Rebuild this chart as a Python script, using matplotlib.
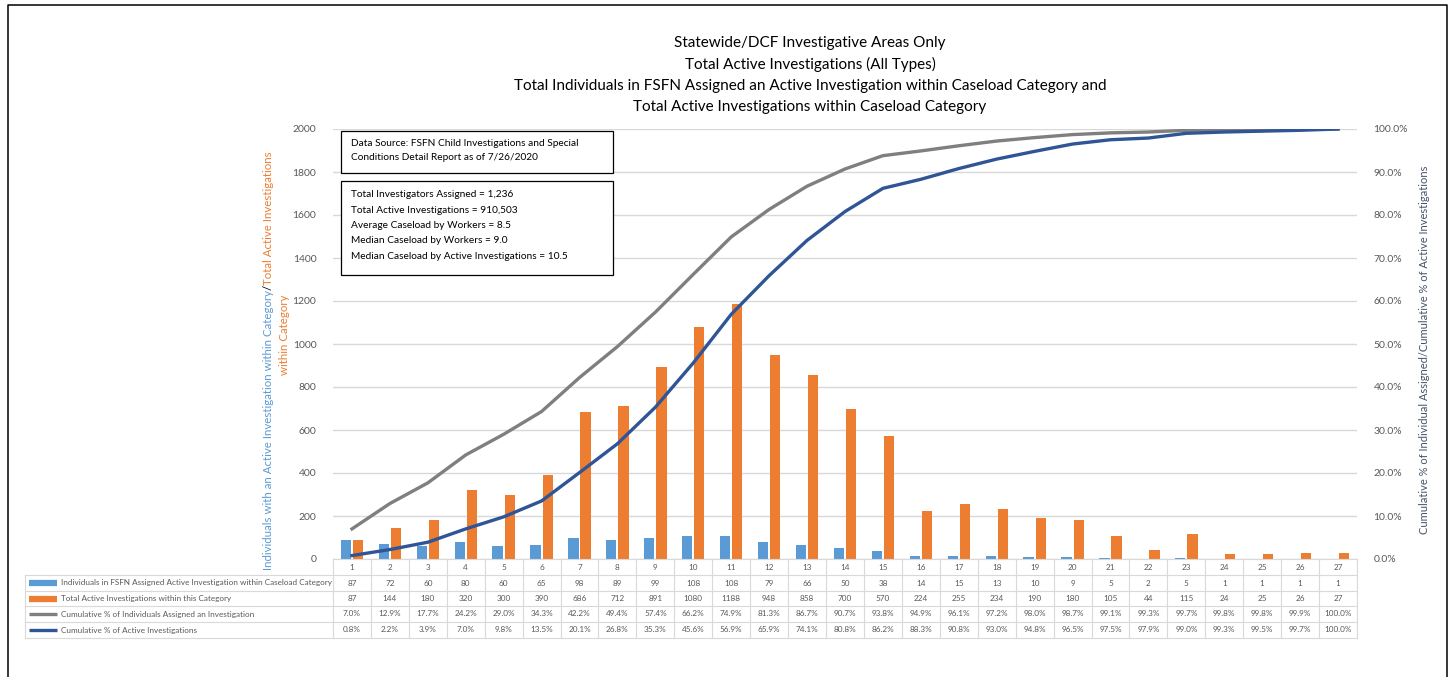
import matplotlib
matplotlib.use("Agg")
import matplotlib.pyplot as plt
import matplotlib.transforms as mtransforms
from matplotlib.lines import Line2D
from matplotlib.patches import Rectangle
import numpy as np

plt.rcParams['font.family'] = ['Lato', 'DejaVu Sans']

categories = list(range(1, 28))
individuals = [87, 72, 60, 80, 60, 65, 98, 89, 99, 108, 108, 79, 66, 50, 38, 14, 15, 13, 10, 9, 5, 2, 5, 1, 1, 1, 1]
investigations = [87, 144, 180, 320, 300, 390, 686, 712, 891, 1080, 1188, 948, 858, 700, 570, 224, 255, 234, 190, 180, 105, 44, 115, 24, 25, 26, 27]
cum_individuals = [7.0, 12.9, 17.7, 24.2, 29.0, 34.3, 42.2, 49.4, 57.4, 66.2, 74.9, 81.3, 86.7, 90.7, 93.8, 94.9, 96.1, 97.2, 98.0, 98.7, 99.1, 99.3, 99.7, 99.8, 99.8, 99.9, 100.0]
cum_investigations = [0.8, 2.2, 3.9, 7.0, 9.8, 13.5, 20.1, 26.8, 35.3, 45.6, 56.9, 65.9, 74.1, 80.8, 86.2, 88.3, 90.8, 93.0, 94.8, 96.5, 97.5, 97.9, 99.0, 99.3, 99.5, 99.7, 100.0]

series_labels = ["Individuals in FSFN Assigned Active Investigation within Caseload Category",
                 "Total Active Investigations within this Category",
                 "Cumulative % of Individuals Assigned an Investigation",
                 "Cumulative % of Active Investigations"]
title_lines = ["Statewide/DCF Investigative Areas Only",
               "Total Active Investigations (All Types)",
               "Total Individuals in FSFN Assigned an Active Investigation within Caseload Category and",
               "Total Active Investigations within Caseload Category"]

BLUE = '#5B9BD5'
ORANGE = '#ED7D31'
GRAY = '#7F7F7F'
DBLUE = '#2F5597'
GRID = '#D9D9D9'
TXT = '#595959'

W, H = 1453, 677
fig = plt.figure(figsize=(W / 100, H / 100), dpi=100)

def fx(px):
    return px / W

def fy(py):
    return 1 - py / H

# outer border (left, top, right; no bottom)
fig.add_artist(Line2D([fx(7.5), fx(7.5), fx(1446.5), fx(1446.5)], [fy(677), fy(4.5), fy(4.5), fy(677)],
                      transform=fig.transFigure, color='black', lw=1.1))

L, R, T, B = 333, 1357, 129, 559
ax = fig.add_axes([fx(L), fy(B), fx(R) - fx(L), fy(T) - fy(B)])
x = np.array(categories, dtype=float)
bw = 0.27
ax.bar(x - 0.16, individuals, width=bw, color=BLUE, zorder=3)
ax.bar(x + 0.16, investigations, width=bw, color=ORANGE, zorder=3)
ax.set_xlim(0.5, 27.5)
ax.set_ylim(0, 2000)
ax.set_yticks(range(0, 2001, 200))
ax.yaxis.grid(True, color=GRID, lw=1, zorder=0)
ax.set_xticks([])
for s in ax.spines.values():
    s.set_visible(False)
ax.tick_params(axis='y', length=0, labelsize=7.5, labelcolor=TXT, pad=12)
ax.patch.set_alpha(0)

ax2 = ax.twinx()
ax2.plot(x, cum_individuals, color=GRAY, lw=2.4, zorder=4)
ax2.plot(x, cum_investigations, color=DBLUE, lw=2.4, zorder=5)
ax2.set_ylim(0, 100)
ax2.set_yticks(range(0, 101, 10))
ax2.set_yticklabels([f"{v:.1f}%" for v in range(0, 101, 10)])
for s in ax2.spines.values():
    s.set_visible(False)
ax2.tick_params(axis='y', length=0, labelsize=7.5, labelcolor=TXT, pad=12)

# titles
for i, (t, yy) in enumerate(zip(title_lines, [43, 64, 86, 107])):
    fig.text(fx(810), fy(yy), t, ha='center', va='center', fontsize=11, color='black')

# info boxes
fig.add_artist(Rectangle((fx(341), fy(173)), fx(613) - fx(341), fy(131) - fy(173),
                         transform=fig.transFigure, fill=True, facecolor='white', edgecolor='black', lw=0.9, zorder=10))
fig.text(fx(351), fy(143), "Data Source: FSFN Child Investigations and Special", fontsize=7.3, va='center', zorder=11)
fig.text(fx(351), fy(157), "Conditions Detail Report as of 7/26/2020", fontsize=7.3, va='center', zorder=11)
fig.add_artist(Rectangle((fx(341), fy(275)), fx(613) - fx(341), fy(181) - fy(275),
                         transform=fig.transFigure, fill=True, facecolor='white', edgecolor='black', lw=0.9, zorder=10))
info = ["Total Investigators Assigned = 1,236",
        "Total Active Investigations = 910,503",
        "Average Caseload by Workers = 8.5",
        "Median Caseload by Workers = 9.0",
        "Median Caseload by Active Investigations = 10.5"]
for i, t in enumerate(info):
    fig.text(fx(351), fy(195 + 15.3 * i), t, fontsize=7.3, va='center', zorder=11)

# left axis label (multi-colored, rotated)
lx = fx(268)
fig.text(lx, fy(290), "Individuals with an Active Investigation within Category", rotation=90,
         rotation_mode='anchor', ha='right', va='center', fontsize=8.3, color=BLUE)
fig.text(lx, fy(290), "/", rotation=90, rotation_mode='anchor', ha='left', va='center', fontsize=8.3, color='black')
fig.text(lx, fy(285), "Total Active Investigations", rotation=90,
         rotation_mode='anchor', ha='left', va='center', fontsize=8.3, color=ORANGE)
fig.text(fx(285), fy(335), "within Category", rotation=90, rotation_mode='anchor',
         ha='center', va='center', fontsize=8.3, color=ORANGE)

# right axis label
fig.text(fx(1425), fy(350), "Cumulative % of Individual Assigned/Cumulative % of Active Investigations",
         rotation=90, rotation_mode='anchor', ha='center', va='center', fontsize=8, color='#44546A')

# data table
blend = mtransforms.blended_transform_factory(ax.transData, fig.transFigure)
rows_y = [559, 575, 591, 606, 622, 638]
lab_left = 25
for j, ry in enumerate(rows_y):
    x0 = fx(lab_left) if j >= 1 else fx(L)
    fig.add_artist(Line2D([x0, fx(R)], [fy(ry), fy(ry)], transform=fig.transFigure, color=GRID, lw=0.8))
for k in range(len(categories) + 1):
    xv = k + 0.5
    fig.add_artist(Line2D([xv, xv], [fy(rows_y[0]), fy(rows_y[-1])], transform=blend, color=GRID, lw=0.8))
fig.add_artist(Line2D([fx(lab_left), fx(lab_left)], [fy(rows_y[1]), fy(rows_y[-1])],
                      transform=fig.transFigure, color=GRID, lw=0.8))

tsize = 5.9
row_vals = [[str(v) for v in categories],
            [str(v) for v in individuals],
            [str(v) for v in investigations],
            [f"{v:.1f}%" for v in cum_individuals],
            [f"{v:.1f}%" for v in cum_investigations]]
for j, vals in enumerate(row_vals):
    yc = fy((rows_y[j] + rows_y[j + 1]) / 2)
    for c, v in zip(categories, vals):
        fig.text(c, yc, v, transform=blend, ha='center', va='center', fontsize=tsize, color=TXT)

sw_colors = [BLUE, ORANGE, GRAY, DBLUE]
sw_lw = [4.5, 4.5, 2.4, 2.4]
for j, (lab, col, lw) in enumerate(zip(series_labels, sw_colors, sw_lw)):
    yc = fy((rows_y[j + 1] + rows_y[j + 2]) / 2)
    fig.add_artist(Line2D([fx(29), fx(57)], [yc, yc], transform=fig.transFigure, color=col, lw=lw,
                          solid_capstyle='butt'))
    fig.text(fx(61), yc, lab, ha='left', va='center', fontsize=tsize, color=TXT)

fig.savefig("out.png", dpi=100)
